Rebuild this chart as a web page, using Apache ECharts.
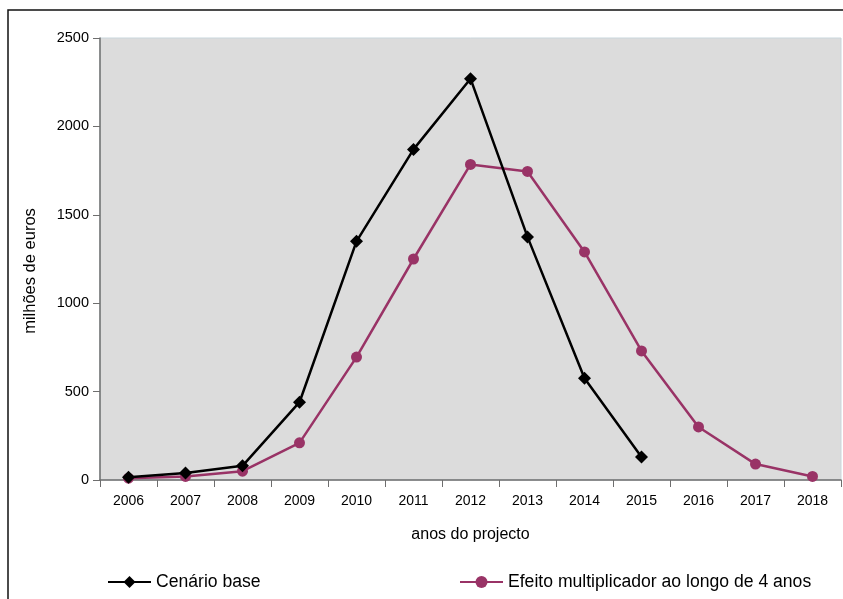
<!DOCTYPE html>
<html>
<head>
<meta charset="utf-8">
<script src="https://cdn.jsdelivr.net/npm/echarts@6/dist/echarts.min.js"></script>
<style>
  html, body { margin: 0; padding: 0; background: #ffffff; }
  #chart { width: 843px; height: 599px; }
</style>
</head>
<body>
<div id="chart"></div>
<script>
// Years of the project
const years = ['2006', '2007', '2008', '2009', '2010', '2011', '2012', '2013', '2014', '2015', '2016', '2017', '2018'];
// Base scenario (million euros)
const cenarioBase = [15, 40, 80, 440, 1350, 1870, 2270, 1375, 575, 130];
// Multiplier effect spread over 4 years (million euros)
const efeitoMultiplicador = [10, 20, 50, 210, 695, 1250, 1785, 1745, 1290, 730, 300, 90, 20];

const font = "'Liberation Sans', Arial, sans-serif";
const chart = echarts.init(document.getElementById('chart'));

chart.setOption({
  animation: false,
  backgroundColor: '#ffffff',
  textStyle: { fontFamily: font },
  graphic: [{
    type: 'rect',
    shape: { x: 8, y: 10, width: 900, height: 700 },
    style: { fill: 'none', stroke: '#111111', lineWidth: 1.5 },
    silent: true
  }, {
    type: 'text',
    x: 22, y: 271,
    rotation: Math.PI / 2,
    style: {
      text: 'milhões de euros',
      fontSize: 16.5,
      fontFamily: font,
      fill: '#000',
      align: 'center',
      verticalAlign: 'top'
    },
    silent: true
  }],
  grid: {
    left: 100, top: 38, right: 2, bottom: 119,
    show: true,
    backgroundColor: '#dcdcdc',
    borderColor: '#c9d6dc',
    borderWidth: 1
  },
  legend: [{
    left: 107, top: 573,
    padding: 0,
    itemWidth: 43, itemHeight: 15,
    textStyle: { fontSize: 17.6, color: '#000', fontFamily: font },
    data: ['Cenário base']
  }, {
    left: 459, top: 573,
    padding: 0,
    itemWidth: 43, itemHeight: 15,
    textStyle: { fontSize: 17.6, color: '#000', fontFamily: font },
    data: ['Efeito multiplicador ao longo de 4 anos']
  }],
  xAxis: {
    type: 'category',
    data: years,
    boundaryGap: true,
    name: 'anos do projecto',
    nameLocation: 'middle',
    nameGap: 47,
    nameTextStyle: { fontSize: 16, color: '#000' },
    axisLine: { lineStyle: { color: '#6e6e6e', width: 1.5 } },
    axisTick: { show: true, length: 7, alignWithLabel: false, lineStyle: { color: '#6e6e6e' } },
    axisLabel: { fontSize: 14, color: '#000', margin: 14 },
    splitLine: { show: false }
  },
  yAxis: {
    type: 'value',
    min: 0, max: 2500, interval: 500,
    axisLine: { show: true, lineStyle: { color: '#6e6e6e', width: 1.5 } },
    axisTick: { show: true, length: 7, lineStyle: { color: '#6e6e6e' } },
    axisLabel: { fontSize: 14.5, color: '#000', margin: 11, formatter: v => String(v) },
    splitLine: { show: false }
  },
  series: [{
    name: 'Cenário base',
    type: 'line',
    data: cenarioBase,
    symbol: 'diamond',
    symbolSize: 13,
    itemStyle: { color: '#000000' },
    lineStyle: { color: '#000000', width: 2.5 },
    z: 3
  }, {
    name: 'Efeito multiplicador ao longo de 4 anos',
    type: 'line',
    data: efeitoMultiplicador,
    symbol: 'circle',
    symbolSize: 11,
    itemStyle: { color: '#993366' },
    lineStyle: { color: '#993366', width: 2.5 },
    z: 2
  }]
});
</script>
</body>
</html>
